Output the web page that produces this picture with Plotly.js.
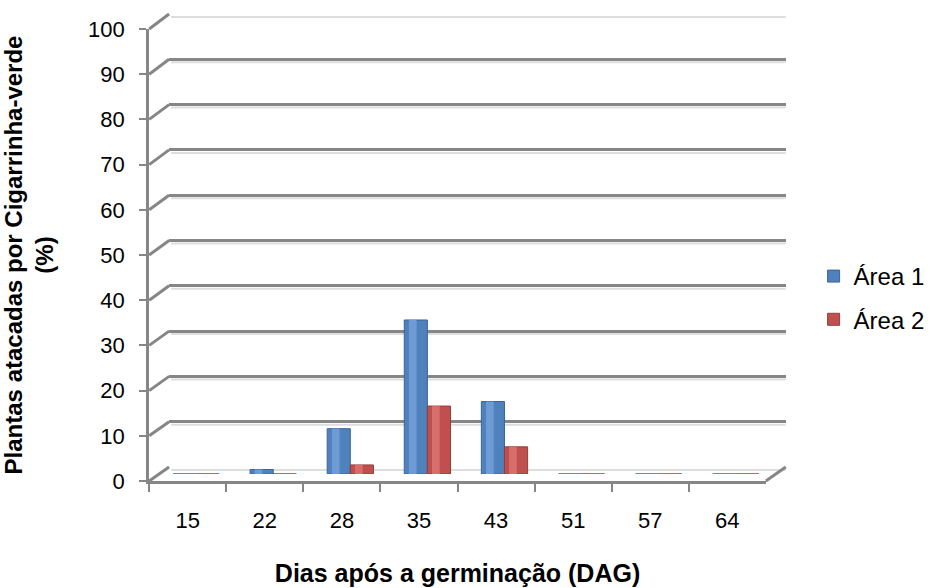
<!DOCTYPE html>
<html>
<head>
<meta charset="utf-8">
<script src="https://cdn.plot.ly/plotly-3.0.1.min.js"></script>
<style>html,body{margin:0;padding:0;background:#fff;}#chart{width:930px;height:588px;}</style>
</head>
<body>
<div id="chart"></div>
<script>
const categories = ["15", "22", "28", "35", "43", "51", "57", "64"];
const area1 = [0, 1, 10, 34, 16, 0, 0, 0];
const area2 = [0, 0, 2, 15, 6, 0, 0, 0];
const seriesNames = ["Área 1", "Área 2"];
const yTicks = [0, 10, 20, 30, 40, 50, 60, 70, 80, 90, 100];

const W = 930, H = 588;
const px = x => x / W;
const py = y => 1 - y / H;

const GRID = '#868686';
const FONT = 'Liberation Sans, Arial, sans-serif';

// three depth planes: front (axes/ticks), mid (bars), back (gridlines)
const front = {x0: 150, x1: 770, y0: 481, y1: 29};
const mid   = {x0: 160, x1: 780, y0: 474, y1: 21};
const back  = {x0: 170, x1: 790, y0: 467, y1: 14};

const traces = [];
traces.push({type: 'scatter', x: categories, y: area1, xaxis: 'x', yaxis: 'y', mode: 'none', showlegend: false, hoverinfo: 'skip'});
traces.push({type: 'scatter', x: categories, y: area1, xaxis: 'x2', yaxis: 'y2', mode: 'none', showlegend: false, hoverinfo: 'skip'});

function addSeries(vals, name, color, light, dark, offset, group) {
  traces.push({
    type: 'bar', x: categories, y: vals, name: name, xaxis: 'x3', yaxis: 'y3',
    offset: offset, width: 0.30, legendgroup: group,
    marker: {color: color, line: {color: dark, width: 1}}, hoverinfo: 'x+y+name'
  });
  traces.push({
    type: 'bar', x: categories, y: vals, name: name, xaxis: 'x3', yaxis: 'y3',
    offset: offset + 0.06, width: 0.10, showlegend: false, legendgroup: group,
    marker: {color: light, line: {width: 0}}, hoverinfo: 'skip'
  });
}
addSeries(area1, seriesNames[0], '#4F81BD', '#6E9BD6', '#3A6597', -0.32, 'g1');
addSeries(area2, seriesNames[1], '#C0504D', '#D66E6B', '#943C3A', -0.02, 'g2');

const shapes = [];
function yAt(plane, v) { return plane.y0 + (plane.y1 - plane.y0) * v / 100; }
yTicks.forEach(v => {
  shapes.push({type: 'line', xref: 'paper', yref: 'paper',
    x0: px(back.x0 + 2), y0: py(yAt(back, v) + 3), x1: px(back.x1), y1: py(yAt(back, v) + 3),
    line: {color: '#DDDDDD', width: 2}, layer: 'below'});
  shapes.push({type: 'line', xref: 'paper', yref: 'paper',
    x0: px(front.x0), y0: py(yAt(front, v)), x1: px(back.x0), y1: py(yAt(back, v)),
    line: {color: GRID, width: 3}, layer: 'below'});
});
shapes.push({type: 'line', xref: 'paper', yref: 'paper',
  x0: px(front.x1), y0: py(front.y0), x1: px(back.x1), y1: py(back.y0),
  line: {color: GRID, width: 3}, layer: 'below'});

const layout = {
  width: W, height: H,
  margin: {l: 0, r: 0, t: 0, b: 0},
  paper_bgcolor: '#fff', plot_bgcolor: 'rgba(0,0,0,0)',
  font: {family: FONT, size: 22, color: '#000'},
  barmode: 'overlay',
  showlegend: true,
  legend: {x: px(818), y: py(254), xanchor: 'left', yanchor: 'top',
    font: {family: FONT, size: 24, color: '#000'}, tracegroupgap: 9,
    bgcolor: 'rgba(0,0,0,0)'},
  xaxis: {
    domain: [px(front.x0), px(front.x1)], anchor: 'y', type: 'category',
    categoryorder: 'array', categoryarray: categories, range: [-0.5, 7.5],
    showline: true, linecolor: GRID, linewidth: 3, showgrid: false, zeroline: false,
    ticks: 'outside', tickson: 'boundaries', ticklen: 8, tickcolor: GRID, tickwidth: 2,
    ticklabelstandoff: 18,
    tickfont: {family: FONT, size: 22, color: '#000'},
    title: {text: '<b>Dias após a germinação (DAG)</b>', font: {family: FONT, size: 25, color: '#000'}, standoff: 33}
  },
  yaxis: {
    domain: [py(front.y0), py(front.y1)], anchor: 'x', range: [0, 100],
    tickvals: yTicks, showline: true, linecolor: GRID, linewidth: 3,
    showgrid: false, zeroline: false,
    ticks: 'outside', ticklen: 7, tickcolor: GRID, tickwidth: 2,
    ticklabelstandoff: 10,
    tickfont: {family: FONT, size: 22, color: '#000'},
    title: {text: '<b>Plantas atacadas por Cigarrinha-verde<br>(%)</b>', font: {family: FONT, size: 24, color: '#000'}, standoff: 36}
  },
  xaxis2: {
    domain: [px(back.x0), px(back.x1)], anchor: 'y2', type: 'category',
    categoryorder: 'array', categoryarray: categories, range: [-0.5, 7.5],
    showticklabels: false, showgrid: false, zeroline: false, showline: false, ticks: ''
  },
  yaxis2: {
    domain: [py(back.y0), py(back.y1)], anchor: 'x2', range: [0, 100],
    tickvals: yTicks, showticklabels: false, showgrid: true, gridcolor: GRID, gridwidth: 3,
    zeroline: false, showline: false, ticks: ''
  },
  xaxis3: {
    domain: [px(mid.x0), px(mid.x1)], anchor: 'y3', type: 'category',
    categoryorder: 'array', categoryarray: categories, range: [-0.5, 7.5],
    showticklabels: false, showgrid: false, zeroline: false, showline: false, ticks: ''
  },
  yaxis3: {
    domain: [py(mid.y0), py(mid.y1)], anchor: 'x3', range: [0, 100],
    showticklabels: false, showgrid: false, zeroline: false, showline: false, ticks: ''
  },
  shapes: shapes
};

Plotly.newPlot('chart', traces, layout, {displayModeBar: false, staticPlot: true});
</script>
</body>
</html>
